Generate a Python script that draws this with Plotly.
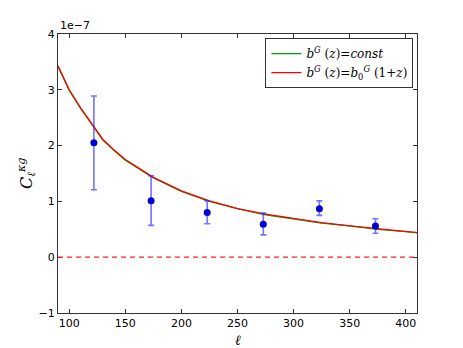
import plotly.graph_objects as go

# model curves (units of 1e-7)
ell_model = [90, 100, 110, 120, 130, 140, 150, 175, 200, 225, 250, 275, 300, 325, 350, 375, 400, 410]
cl_const = [3.42, 2.99, 2.67, 2.38, 2.10, 1.91, 1.74, 1.42, 1.18, 1.00, 0.87, 0.76, 0.68, 0.61, 0.56, 0.50, 0.46, 0.44]
cl_evol = [3.43, 3.00, 2.68, 2.39, 2.11, 1.92, 1.75, 1.43, 1.19, 1.01, 0.87, 0.77, 0.69, 0.62, 0.56, 0.51, 0.46, 0.44]

# measured points (units of 1e-7)
ell_data = [122, 173, 223, 273, 323, 373]
cl_data = [2.05, 1.01, 0.80, 0.59, 0.87, 0.56]
err_up = [0.84, 0.45, 0.21, 0.20, 0.14, 0.13]
err_dn = [0.84, 0.44, 0.20, 0.19, 0.12, 0.13]

yticks = [-1, 0, 1, 2, 3, 4]
xticks = [100, 150, 200, 250, 300, 350, 400]

scale = 1e-7

fig = go.Figure()

fig.add_trace(go.Scatter(
    x=ell_model, y=[v * scale for v in cl_const],
    mode='lines', line=dict(color='#00a000', width=1.3),
    name='<i>b<sup>G</sup></i> (<i>z</i>)=<i>const</i>'
))
fig.add_trace(go.Scatter(
    x=ell_model, y=[v * scale for v in cl_evol],
    mode='lines', line=dict(color='#ff0000', width=1.3),
    name='<i>b<sup>G</sup></i> (<i>z</i>)=<i>b</i><sub>0</sub><sup><i>G</i></sup> (1+<i>z</i>)'
))
fig.add_trace(go.Scatter(
    x=ell_data, y=[v * scale for v in cl_data],
    mode='markers',
    marker=dict(color='#0000d0', size=7),
    error_y=dict(type='data', symmetric=False,
                 array=[v * scale for v in err_up],
                 arrayminus=[v * scale for v in err_dn],
                 color='rgba(40,40,255,0.65)', thickness=1.6, width=3),
    showlegend=False
))

fig.add_hline(y=0, line=dict(color='#ff2020', dash='5px,4px', width=1.2))

axis_common = dict(
    showgrid=False, zeroline=False, showline=True, linecolor='#333333',
    linewidth=1.2, mirror='ticks', ticks='inside', ticklen=4,
    tickcolor='#333333', automargin=False,
    tickfont=dict(family='DejaVu Sans', size=11, color='black')
)

fig.update_layout(
    width=463, height=348,
    paper_bgcolor='white', plot_bgcolor='white',
    margin=dict(l=58, r=46, t=34, b=35),
    font=dict(family='DejaVu Sans', color='black'),
    xaxis=dict(range=[90, 410], tickvals=xticks, **axis_common),
    yaxis=dict(range=[-1 * scale, 4 * scale],
               tickvals=[t * scale for t in yticks],
               ticktext=['\u2212' + str(-t) if t < 0 else str(t) for t in yticks],
               **axis_common),
    legend=dict(x=0.99, y=0.985, xanchor='right', yanchor='top',
                bgcolor='white', bordercolor='#333333', borderwidth=1,
                font=dict(family='DejaVu Serif', size=12),
                itemwidth=30, tracegroupgap=4),
    annotations=[
        dict(text='1e\u22127', xref='paper', yref='paper', x=0, y=1,
             xanchor='left', yanchor='bottom', showarrow=False,
             font=dict(family='DejaVu Sans', size=11)),
        dict(text='<i>ℓ</i>', xref='paper', yref='paper', x=0.5, y=0,
             yshift=-17, xanchor='center', yanchor='top', showarrow=False,
             font=dict(family='DejaVu Serif', size=14)),
        dict(text='<i>C<sub>ℓ</sub><sup>κg</sup></i>', xref='paper', yref='paper',
             x=0, y=0.5, xshift=-18, xanchor='right', yanchor='middle',
             textangle=-90, showarrow=False,
             font=dict(family='DejaVu Serif', size=16)),
    ]
)

# drop the default page margin so the figure sits at the window corner
fig.write_html("out.html", config={'displayModeBar': False},
               post_script="document.body.style.margin='0';")
